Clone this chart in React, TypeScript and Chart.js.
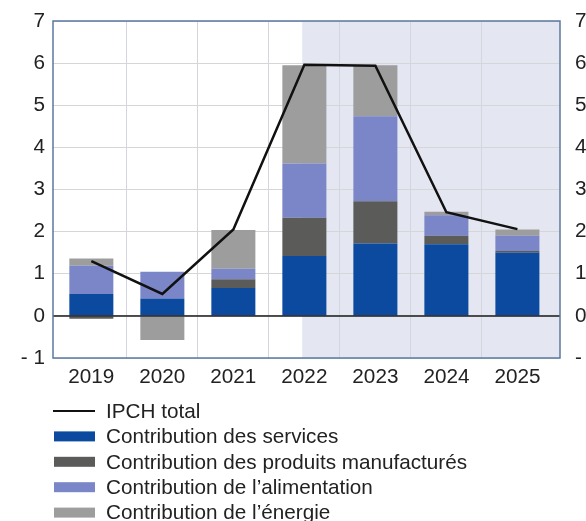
import React, { useEffect, useRef } from 'react';
import { Chart, CategoryScale, registerables } from 'chart.js';

class WideCategoryScale extends (CategoryScale as any) {
  static id = 'wideCategory';
  static defaults = (CategoryScale as any).defaults;
  configure() {
    super.configure();
    const o = (this as any).options;
    (this as any)._startValue -= o.extraStart || 0;
    (this as any)._valueRange += (o.extraStart || 0) + (o.extraEnd || 0);
  }
}

Chart.register(...registerables, WideCategoryScale as any);

const categories = ['2019', '2020', '2021', '2022', '2023', '2024', '2025'];
const ipchTotal = [1.3, 0.52, 2.05, 5.96, 5.94, 2.46, 2.06];
const services = [0.52, 0.41, 0.66, 1.42, 1.72, 1.7, 1.5];
const manufactures = [-0.07, 0, 0.21, 0.91, 1.0, 0.2, 0.04];
const alimentation = [0.67, 0.64, 0.25, 1.29, 2.02, 0.49, 0.36];
const energie = [0.17, -0.57, 0.92, 2.33, 1.21, 0.08, 0.15];
const yMin = -1;
const yMax = 7;
const projectionFrom = 2.97; // category index where the projection shading begins

const FONT = "'Liberation Sans', Arial, sans-serif";
const FS = 20.7;
const TEXT = '#222222';

const fmtTick = (v: number) => (v < 0 ? '- ' + Math.abs(v) : String(v));

const decorPlugin = {
  id: 'decor',
  beforeDraw(chart: any) {
    const { ctx, chartArea: a, scales } = chart;
    const xs = scales.x;
    const x0 = xs.getPixelForValue(projectionFrom);
    ctx.save();
    ctx.fillStyle = '#e4e6f2';
    ctx.fillRect(x0, a.top, a.right - x0, a.bottom - a.top);
    ctx.restore();
  },
  afterDatasetsDraw(chart: any) {
    const { ctx, chartArea: a, scales } = chart;
    const y0 = scales.y.getPixelForValue(0);
    ctx.save();
    ctx.strokeStyle = '#1a1a1a';
    ctx.lineWidth = 1.5;
    ctx.beginPath();
    ctx.moveTo(a.left, y0);
    ctx.lineTo(a.right, y0);
    ctx.stroke();
    ctx.strokeStyle = '#5a7aa0';
    ctx.lineWidth = 1.5;
    ctx.strokeRect(a.left, a.top, a.right - a.left, a.bottom - a.top);
    ctx.restore();
  },
  afterDraw(chart: any) {
    const { ctx, chartArea: a } = chart;
    const ds = chart.data.datasets;
    const x = a.left;
    ctx.save();
    ctx.font = `${FS}px ${FONT}`;
    ctx.textBaseline = 'middle';
    ctx.textAlign = 'left';
    ds.forEach((d: any, i: number) => {
      const y = a.bottom + 53 + i * 25.4;
      if (d.type === 'line') {
        ctx.strokeStyle = d.borderColor;
        ctx.lineWidth = 2;
        ctx.beginPath();
        ctx.moveTo(x, y);
        ctx.lineTo(x + 42, y);
        ctx.stroke();
      } else {
        ctx.fillStyle = d.backgroundColor;
        ctx.fillRect(x + 1, y - 5, 41, 10);
      }
      ctx.fillStyle = TEXT;
      ctx.fillText(d.label, x + 53, y + 1);
    });
    ctx.restore();
  },
};

const fitY = (w: number) => (s: any) => {
  s.width = w;
  s.paddingTop = 0;
  s.paddingBottom = 0;
};

export default function App() {
  const ref = useRef<HTMLCanvasElement | null>(null);
  useEffect(() => {
    if (!ref.current) return;
    Chart.defaults.font.family = FONT;
    const barCommon = {
      type: 'bar' as const,
      stack: 's',
      order: 1,
      barPercentage: 0.62,
      categoryPercentage: 1,
      borderWidth: 0,
    };
    const chart = new Chart(ref.current, {
      data: {
        labels: categories,
        datasets: [
          {
            type: 'line',
            label: 'IPCH total',
            data: ipchTotal,
            borderColor: '#111111',
            backgroundColor: '#111111',
            borderWidth: 2.5,
            pointRadius: 0,
            tension: 0,
            order: 0,
          },
          { ...barCommon, label: 'Contribution des services', data: services, backgroundColor: '#0b4a9f' },
          { ...barCommon, label: 'Contribution des produits manufacturés', data: manufactures, backgroundColor: '#5b5c59' },
          { ...barCommon, label: 'Contribution de l’alimentation', data: alimentation, backgroundColor: '#7a86c8' },
          { ...barCommon, label: 'Contribution de l’énergie', data: energie, backgroundColor: '#9c9d9c' },
        ] as any,
      },
      options: {
        animation: false,
        responsive: true,
        maintainAspectRatio: false,
        layout: { padding: { top: 21, left: 0, right: 0, bottom: 0 } },
        plugins: { legend: { display: false }, tooltip: { enabled: false }, title: { display: false } },
        scales: {
          x: {
            type: 'wideCategory',
            offset: true,
            extraStart: 0.02,
            extraEnd: 0.05,
            grid: {
              offset: true,
              color: (c: any) => (c.type !== 'tick' || c.index === 0 ? 'rgba(0,0,0,0)' : '#d3d6de'),
              lineWidth: 1,
              drawTicks: false,
            },
            border: { display: false },
            ticks: { color: TEXT, font: { size: FS, family: FONT }, padding: 7, maxRotation: 0 },
            afterFit: (s: any) => {
              s.height = 163;
              s.paddingLeft = 0;
              s.paddingRight = 0;
            },
          },
          y: {
            position: 'left',
            stacked: true,
            min: yMin,
            max: yMax,
            grid: { color: '#d6d6d6', lineWidth: 1, drawTicks: false },
            border: { display: false },
            ticks: { stepSize: 1, color: TEXT, font: { size: FS, family: FONT }, padding: 8, callback: (v: any) => fmtTick(Number(v)) },
            afterFit: fitY(53),
          },
          y2: {
            position: 'right',
            min: yMin,
            max: yMax,
            grid: { display: false, drawTicks: false },
            border: { display: false },
            ticks: { stepSize: 1, color: TEXT, font: { size: FS, family: FONT }, padding: 15, callback: (v: any) => fmtTick(Number(v)) },
            afterFit: fitY(26),
          },
        },
      } as any,
      plugins: [decorPlugin],
    });
    return () => chart.destroy();
  }, []);
  return (
    <div style={{ position: 'absolute', left: 0, top: 0, width: 586, height: 521, background: '#ffffff' }}>
      <canvas ref={ref} />
    </div>
  );
}
